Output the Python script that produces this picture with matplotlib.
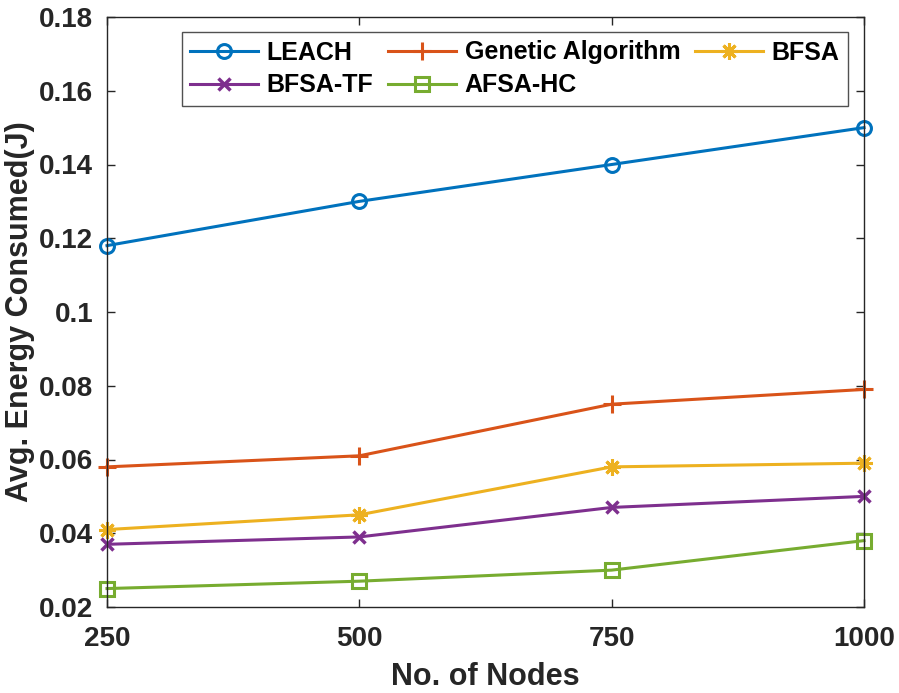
from matplotlib import pyplot as plt
import numpy as np

plt.rcParams['font.family'] = ['Liberation Sans', 'DejaVu Sans']
plt.rcParams['font.weight'] = 'bold'

nodes = [250, 500, 750, 1000]
leach = [0.118, 0.130, 0.140, 0.150]
genetic = [0.058, 0.061, 0.075, 0.079]
bfsa = [0.041, 0.045, 0.058, 0.059]
bfsa_tf = [0.037, 0.039, 0.047, 0.050]
afsa_hc = [0.025, 0.027, 0.030, 0.038]

fig = plt.figure(figsize=(8.99, 6.93), dpi=100)
ax = fig.add_axes([107/899, 1-607/693, (864-107)/899, (607-17)/693])

lw = 2.2
h1, = ax.plot(nodes, leach, color='#0072BD', marker='o', ms=10, mfc='none', mew=2.2, lw=lw, label='LEACH', clip_on=False)
h2, = ax.plot(nodes, genetic, color='#D95319', marker='+', ms=13, mew=2.2, lw=lw, label='Genetic Algorithm', clip_on=False)
h3, = ax.plot(nodes, bfsa, color='#EDB120', marker=(8, 2, 0), ms=12, mew=2.2, lw=lw, label='BFSA', clip_on=False)
h4, = ax.plot(nodes, bfsa_tf, color='#7E2F8E', marker='x', ms=9, mew=2.5, lw=lw, label='BFSA-TF', clip_on=False)
h5, = ax.plot(nodes, afsa_hc, color='#77AC30', marker='s', ms=10, mfc='none', mew=2.2, lw=lw, label='AFSA-HC', clip_on=False)

ax.set_xlim(250, 1000)
ax.set_ylim(0.02, 0.18)
ax.set_xticks(nodes)
ax.set_yticks([0.02, 0.04, 0.06, 0.08, 0.1, 0.12, 0.14, 0.16, 0.18])
ax.set_yticklabels(['0.02', '0.04', '0.06', '0.08', '0.1', '0.12', '0.14', '0.16', '0.18'])
ax.tick_params(direction='in', top=True, right=True, labelsize=20, length=6, width=1,
               colors='#262626')
ax.tick_params(axis='y', pad=10)
ax.tick_params(axis='x', pad=14)
for s in ax.spines.values():
    s.set_color('#262626')
    s.set_linewidth(1)

ax.set_xlabel('No. of Nodes', fontsize=22, fontweight='bold', color='#262626')
ax.set_ylabel('Avg. Energy Consumed(J)', fontsize=22, fontweight='bold', color='#262626')
ax.xaxis.set_label_coords(0.5, -0.093)
ax.yaxis.set_label_coords(-0.095, 0.5)

# legend filled row by row (3 per row)
handles = [h1, h4, h2, h5, h3]
leg = ax.legend(handles=handles, labels=[h.get_label() for h in handles], ncol=3,
                loc='upper right', bbox_to_anchor=(0.979, 0.975), borderaxespad=0,
                fontsize=18, frameon=True, fancybox=False, edgecolor='#262626',
                handlelength=2.7, columnspacing=0.6, handletextpad=0.35,
                borderpad=0.35, labelspacing=0.35)
leg.get_frame().set_linewidth(1)

plt.savefig('out.png', dpi=100)
